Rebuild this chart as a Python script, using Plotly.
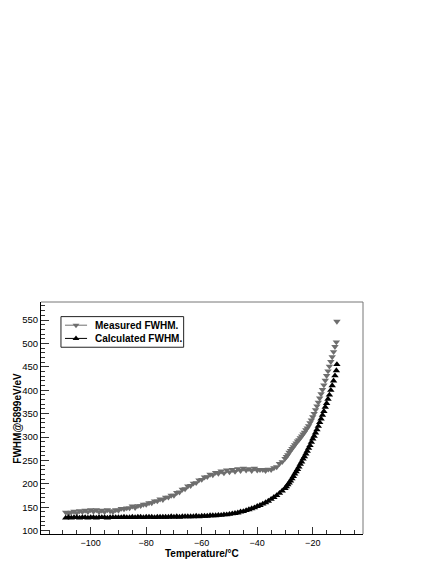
import plotly.graph_objects as go

# ---- data ----
temps = [
    -109, -108, -107, -106, -105, -104, -103, -102, -101, -100,
    -99, -98, -97, -96, -95, -94, -93, -92, -91, -90,
    -89, -88, -87, -86, -85, -84, -83, -82, -81, -80,
    -79, -78, -77, -76, -75, -74, -73, -72, -71, -70,
    -69, -68, -67, -66, -65, -64, -63, -62, -61, -60,
    -59, -58, -57, -56, -55, -54, -53, -52, -51, -50,
    -49, -48, -47, -46, -45, -44, -43, -42, -41, -40,
    -39, -38, -37, -36, -35, -34, -33, -32, -31,
    -30, -29.5, -29, -28.5, -28, -27.5, -27, -26.5, -26, -25.5,
    -25, -24.5, -24, -23.5, -23, -22.5, -22, -21.5, -21, -20.5,
    -20, -19.5, -19, -18.5, -18, -17.5, -17, -16.5, -16, -15.5,
    -15, -14.5, -14, -13.5, -13, -12.5, -12, -11.5,
    -11.3,
]

measured_fwhm = [
    139, 136, 139, 141, 138, 142, 140, 143, 140, 144,
    141, 144, 140, 143, 140, 144, 142, 140, 144, 143,
    147, 146, 148, 148, 152, 149, 153, 153, 156, 156,
    159, 159, 163, 163, 167, 166, 171, 171, 175, 175,
    181, 182, 188, 189, 195, 196, 201, 202, 208, 209,
    214, 215, 220, 219, 224, 222, 227, 223, 229, 225,
    230, 226, 232, 228, 233, 229, 232, 228, 233, 229,
    230, 230, 228, 231, 230, 234, 236, 243, 247,
    254, 258, 262, 267, 271, 275, 279, 283, 287, 291,
    294, 298, 302, 306, 310, 315, 319, 324, 330, 336,
    343, 350, 358, 366, 374, 383, 392, 401, 411, 421,
    431, 441, 451, 461, 471, 482, 493, 503,
    547,
]

calculated_fwhm = [
    127, 128, 127, 128, 128, 127, 128, 128, 127, 128,
    128, 127, 128, 128, 128, 127, 128, 128, 128, 128,
    128, 129, 128, 128, 129, 128, 129, 129, 128, 129,
    129, 129, 128, 129, 129, 129, 129, 129, 130, 129,
    130, 129, 130, 130, 130, 130, 130, 131, 130, 131,
    131, 131, 132, 132, 132, 133, 133, 134, 134, 135,
    136, 137, 138, 140, 141, 143, 145, 147, 149, 152,
    154, 157, 160, 163, 167, 171, 175, 180, 185,
    190, 194, 198, 202, 206, 211, 216, 221, 226, 231,
    236, 242, 247, 253, 258, 264, 270, 276, 282, 289,
    296, 302, 309, 316, 323, 331, 339, 347, 355, 364,
    372, 381, 390, 400, 410, 420, 431, 442,
    455,
]

series_names = ["Measured FWHM.", "Calculated FWHM."]
x_title = "Temperature/\u00b0C"
y_title = "FWHM@5899eV/eV"

GRAY = "#6e6e6e"
FONT = "Liberation Sans, Arial, Helvetica, sans-serif"

fig = go.Figure()

fig.add_trace(go.Scatter(
    x=temps, y=measured_fwhm, mode="markers", name=series_names[0],
    marker=dict(symbol="triangle-down", size=6.5, color=GRAY, line=dict(width=0)),
    showlegend=False,
))
fig.add_trace(go.Scatter(
    x=temps, y=calculated_fwhm, mode="markers", name=series_names[1],
    marker=dict(symbol="triangle-up", size=6.5, color="black", line=dict(width=0)),
    showlegend=False,
))

# ---- hand-built legend (ROOT style box) on an overlay 0..1 axis pair ----
leg_x0, leg_x1 = 0.062, 0.443
leg_y0, leg_y1 = 0.805, 0.937
row_y = [0.900, 0.843]
sample_x = [0.0745, 0.143]
mark_x = 0.1087
text_x = 0.160
leg_colors = [GRAY, "black"]
leg_symbols = ["triangle-down", "triangle-up"]

for i in range(2):
    fig.add_trace(go.Scatter(
        x=sample_x, y=[row_y[i], row_y[i]], mode="lines",
        line=dict(color=leg_colors[i], width=1),
        xaxis="x2", yaxis="y2", showlegend=False, hoverinfo="skip",
    ))
    fig.add_trace(go.Scatter(
        x=[mark_x], y=[row_y[i]], mode="markers",
        marker=dict(symbol=leg_symbols[i], size=6, color=leg_colors[i], line=dict(width=0)),
        xaxis="x2", yaxis="y2", showlegend=False, hoverinfo="skip",
    ))

annotations = [
    dict(text=x_title, xref="paper", yref="paper", x=0.5, y=-0.086,
         xanchor="center", yanchor="middle", showarrow=False,
         font=dict(family=FONT, size=10, color="black", weight="bold")),
    dict(text=y_title, xref="paper", yref="paper", x=-0.0755, y=0.5,
         xanchor="center", yanchor="middle", textangle=-90, showarrow=False,
         font=dict(family=FONT, size=10, color="black", weight="bold")),
]
for i in range(2):
    annotations.append(dict(
        text=series_names[i], xref="paper", yref="paper", x=text_x, y=row_y[i],
        xanchor="left", yanchor="middle", showarrow=False,
        font=dict(family=FONT, size=10, color="black", weight="bold"),
    ))

shapes = [
    dict(type="rect", xref="paper", yref="paper", x0=leg_x0, x1=leg_x1, y0=leg_y0, y1=leg_y1,
         line=dict(color="#222222", width=1), fillcolor="white", layer="below"),
    dict(type="line", xref="paper", yref="paper", x0=0, x1=1, y0=1, y1=1,
         line=dict(color="#777777", width=1)),
    dict(type="line", xref="paper", yref="paper", x0=1, x1=1, y0=0, y1=1,
         line=dict(color="#777777", width=1)),
]

# the page body adds an 8px margin, so the figure is 8px smaller on each side
fig.update_layout(
    width=428, height=556,
    margin=dict(l=33, r=73, t=294, b=30),
    paper_bgcolor="white", plot_bgcolor="white",
    font=dict(family=FONT, size=10, color="black"),
    showlegend=False,
    xaxis=dict(
        range=[-117.9, -1.9], showgrid=False, zeroline=False,
        showline=True, linecolor="black", linewidth=1,
        ticks="inside", ticklen=7, tickwidth=1, tickcolor="#333333",
        tick0=0, dtick=20,
        minor=dict(ticks="inside", ticklen=4, tickwidth=1, tickcolor="#333333", dtick=5, tick0=0, showgrid=False),
        tickfont=dict(family=FONT, size=9, color="black"),
    ),
    yaxis=dict(
        range=[92.7, 588.5], showgrid=False, zeroline=False,
        showline=True, linecolor="black", linewidth=1,
        ticks="inside", ticklen=8, tickwidth=1, tickcolor="#333333",
        tick0=0, dtick=50,
        minor=dict(ticks="inside", ticklen=4, tickwidth=1, tickcolor="#333333", dtick=10, tick0=0, showgrid=False),
        tickfont=dict(family=FONT, size=9.5, color="black"),
    ),
    xaxis2=dict(overlaying="x", anchor="y2", range=[0, 1], visible=False, fixedrange=True),
    yaxis2=dict(overlaying="y", anchor="x2", range=[0, 1], visible=False, fixedrange=True),
    annotations=annotations,
    shapes=shapes,
)

fig.write_html("out.html")
